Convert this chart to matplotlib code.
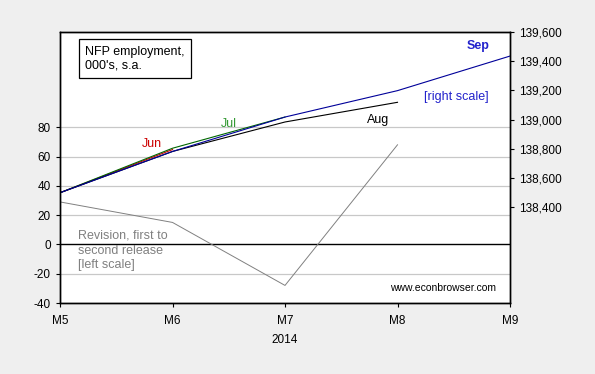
import numpy as np
import matplotlib.pyplot as plt

plt.rcParams['font.family'] = ['Liberation Sans', 'DejaVu Sans']
plt.rcParams['axes.unicode_minus'] = False

# ----------------------------
# Dados
# ----------------------------
meses = [5, 6, 7, 8, 9]
rotulos_meses = ["M5", "M6", "M7", "M8", "M9"]

# revisão, primeira para segunda divulgação [escala esquerda]
revisao = [29, 15, -28, 68]

# NFP por divulgação, milhares, s.a. [escala direita]
nfp_jun = [138498, 138794]
nfp_jul = [138498, 138803, 139017]
nfp_aug = [138498, 138781, 138983, 139118]
nfp_sep = [138498, 138781, 139017, 139198, 139435]

ticks_esq = [-40, -20, 0, 20, 40, 60, 80]
ticks_dir = [138400, 138600, 138800, 139000, 139200, 139400, 139600]

# ----------------------------
# Figura
# ----------------------------
fig = plt.figure(figsize=(5.95, 3.74), dpi=100, facecolor="#efefef")
ax = fig.add_axes([60 / 595, 71 / 374, 450 / 595, 271 / 374])
ax.set_facecolor("white")

ax.set_xlim(5, 9)
ax.set_ylim(-40, 145)
ax.set_yticks(ticks_esq)
ax.set_xticks(meses)
ax.set_xticklabels(rotulos_meses)
for v in ticks_esq:
    if v != 0:
        ax.axhline(v, color="#c8c8c8", lw=0.9, zorder=0)
ax.axhline(0, color="black", lw=1.0, zorder=1)

ax.plot(meses[:4], revisao, color="#808080", lw=0.7, zorder=2)

ax2 = ax.twinx()
ax2.set_ylim(137742, 139600)
ax2.set_yticks(ticks_dir)
ax2.set_yticklabels([f"{v:,}" for v in ticks_dir])

ax2.plot(meses[:2], nfp_jun, color="#cc0000", lw=0.8)
ax2.plot(meses[:3], nfp_jul, color="#006600", lw=0.8)
ax2.plot(meses[:4], nfp_aug, color="black", lw=0.8)
ax2.plot(meses, nfp_sep, color="#000099", lw=0.8)

for a in (ax, ax2):
    a.tick_params(labelsize=8.5, length=3, width=0.8, colors="black", direction="out")
    for s in a.spines.values():
        s.set_linewidth(1.0)
ax.tick_params(axis="x", pad=6)

ax.set_xlabel("2014", fontsize=8.5, labelpad=5)

# ----------------------------
# Anotações
# ----------------------------
ax.text(0.055, 0.95, "NFP employment,\n000's, s.a.", transform=ax.transAxes,
        fontsize=9, va="top", ha="left", linespacing=1.25,
        bbox=dict(boxstyle="square,pad=0.5", fc="white", ec="black", lw=0.9))
ax.text(0.205, 0.585, "Jun", transform=ax.transAxes, color="#cc0000", fontsize=9,
        ha="center", va="center")
ax.text(0.375, 0.66, "Jul", transform=ax.transAxes, color="#339933", fontsize=9,
        ha="center", va="center")
ax.text(0.707, 0.675, "Aug", transform=ax.transAxes, color="black", fontsize=9,
        ha="center", va="center")
ax.text(0.93, 0.948, "Sep", transform=ax.transAxes, color="#2222cc", fontsize=9,
        fontweight="bold", ha="center", va="center")
ax.text(0.88, 0.76, "[right scale]", transform=ax.transAxes, color="#2222cc",
        fontsize=9, ha="center", va="center")
ax.text(0.04, 0.27, "Revision, first to\nsecond release\n[left scale]",
        transform=ax.transAxes, color="#808080", fontsize=9, ha="left", va="top",
        linespacing=1.3)
ax.text(0.97, 0.055, "www.econbrowser.com", transform=ax.transAxes, color="black",
        fontsize=7.5, ha="right", va="center")

fig.savefig("out.png", dpi=100, facecolor=fig.get_facecolor())
